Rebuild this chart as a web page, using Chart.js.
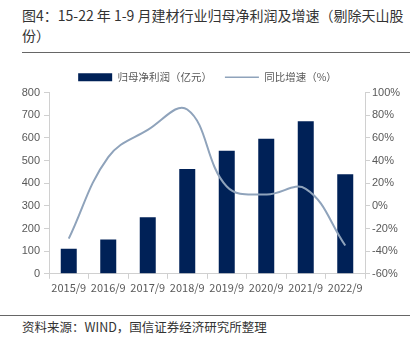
<!DOCTYPE html>
<html>
<head>
<meta charset="utf-8">
<script src="https://cdn.jsdelivr.net/npm/chart.js@4/dist/chart.umd.min.js"></script>
<style>
  html, body { margin: 0; padding: 0; background: #fff; }
  body { width: 415px; height: 337px; position: relative; overflow: hidden; font-family: "Noto Sans CJK SC", sans-serif; }
  #title { position: absolute; left: 22px; top: 5px; width: 390px; font-size: 14px; line-height: 20px; color: #333; }
  #rule1 { position: absolute; left: 22px; top: 52px; width: 388px; border-top: 1px solid #666; }
  #rule2 { position: absolute; left: 0; top: 315px; width: 410px; border-top: 1px solid #666; }
  #source { position: absolute; left: 22px; top: 318px; font-size: 12.5px; line-height: 18px; color: #333; }
  #wrap { position: absolute; left: 0; top: 59px; width: 415px; height: 237px; }
</style>
</head>
<body>
<div id="title">图4：15-22 年 1-9 月建材行业归母净利润及增速（剔除天山股份）</div>
<div id="rule1"></div>
<div id="wrap"><canvas id="chart"></canvas></div>
<div id="rule2"></div>
<div id="source">资料来源：WIND，国信证券经济研究所整理</div>
<script>
const categories = ['2015/9', '2016/9', '2017/9', '2018/9', '2019/9', '2020/9', '2021/9', '2022/9'];
const profit = [110, 151, 249, 462, 543, 596, 673, 439];
const growth = [-29, 43, 67, 85, 17, 10, 15, -35];
const leftTicks = [0, 100, 200, 300, 400, 500, 600, 700, 800];
const rightTicks = [-60, -40, -20, 0, 20, 40, 60, 80, 100];

const axisColor = '#d0d0d0';
const textColor = '#595959';

new Chart(document.getElementById('chart'), {
  type: 'bar',
  data: {
    labels: categories,
    datasets: [
      {
        type: 'line',
        label: '同比增速（%）',
        data: growth,
        yAxisID: 'y1',
        borderColor: '#8fa3bb',
        borderWidth: 2,
        pointRadius: 0,
        tension: 0.4,
        fill: false,
        order: 0,
      },
      {
        label: '归母净利润（亿元）',
        data: profit,
        yAxisID: 'y',
        backgroundColor: '#002157',
        barPercentage: 0.45,
        categoryPercentage: 0.9,
        order: 1,
      },
    ],
  },
  options: {
    responsive: true,
    maintainAspectRatio: false,
    animation: false,
    layout: { padding: { top: 0, bottom: 0, left: 0, right: 0 } },
    plugins: {
      tooltip: { enabled: false },
      legend: {
        position: 'top',
        reverse: true,
        labels: {
          usePointStyle: true,
          pointStyleWidth: 34,
          boxWidth: 34,
          boxHeight: 8,
          color: textColor,
          padding: 13,
          font: { family: '"Noto Sans CJK SC", sans-serif', size: 10.5 },
          generateLabels(chart) {
            return chart.data.datasets.map((ds, i) => ({
              text: ds.label,
              datasetIndex: i,
              fillStyle: ds.type === 'line' ? 'transparent' : ds.backgroundColor,
              strokeStyle: ds.type === 'line' ? ds.borderColor : ds.backgroundColor,
              lineWidth: ds.type === 'line' ? 1.5 : 0,
              pointStyle: ds.type === 'line' ? 'line' : 'rect',
              fontColor: textColor,
            }));
          },
        },
      },
    },
    scales: {
      x: {
        offset: true,
        grid: { display: true, drawOnChartArea: false, offset: true, color: axisColor, tickLength: 5 },
        border: { color: axisColor },
        ticks: { color: textColor, font: { family: '"Noto Sans CJK SC", sans-serif', size: 11 }, maxRotation: 0, padding: 2 },
      },
      y: {
        position: 'left',
        min: 0,
        max: 800,
        afterBuildTicks(axis) { axis.ticks = leftTicks.map(v => ({ value: v })); },
        afterFit(axis) { axis.width = 49; },
        grid: { display: true, drawOnChartArea: false, color: axisColor, tickLength: 5 },
        border: { color: axisColor },
        ticks: { color: textColor, font: { family: '"Liberation Sans", Arial, sans-serif', size: 11 }, padding: 4 },
      },
      y1: {
        position: 'right',
        min: -60,
        max: 100,
        afterBuildTicks(axis) { axis.ticks = rightTicks.map(v => ({ value: v })); },
        afterFit(axis) { axis.width = 50; },
        grid: { display: true, drawOnChartArea: false, color: axisColor, tickLength: 5 },
        border: { color: axisColor },
        ticks: { color: textColor, font: { family: '"Liberation Sans", Arial, sans-serif', size: 11 }, padding: 2, callback: v => v + '%' },
      },
    },
  },
});
</script>
</body>
</html>
